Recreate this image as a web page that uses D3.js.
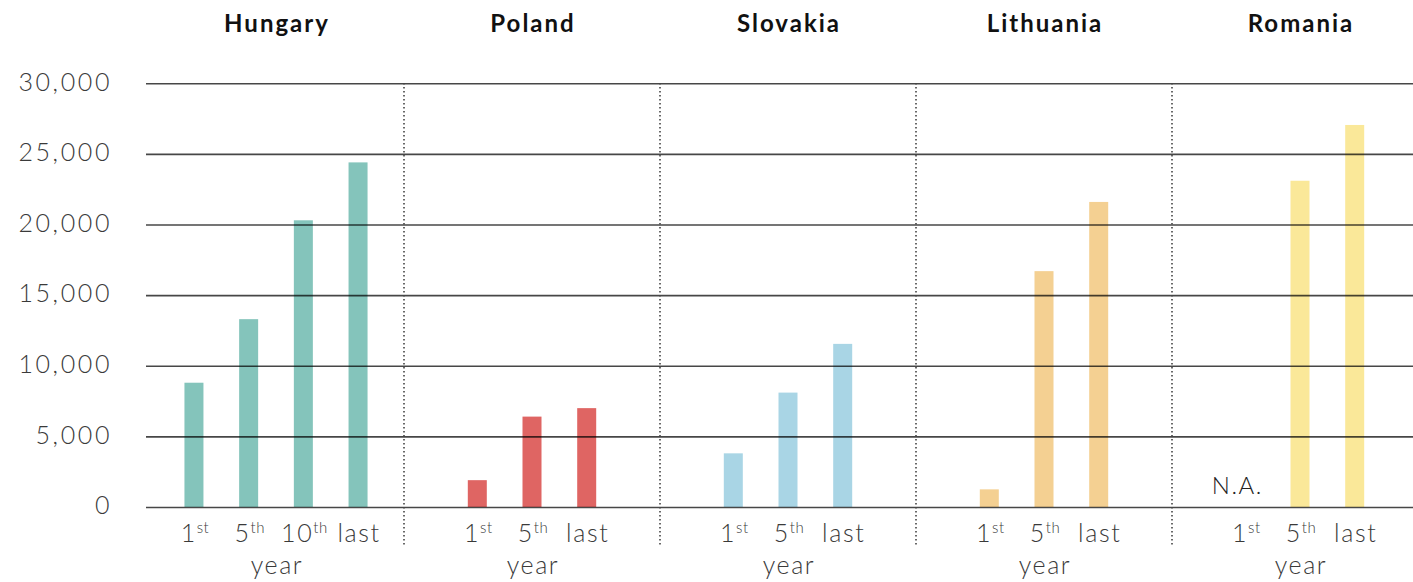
<!DOCTYPE html>
<html>
<head>
<meta charset="utf-8">
<script src="https://cdn.jsdelivr.net/npm/d3@7"></script>
<style>
  html, body { margin: 0; padding: 0; background: #fff; }
  svg { display: block; }
</style>
</head>
<body>
<svg id="chart" width="1413" height="582"></svg>
<script>
// ---- data ----
const countries = ["Hungary", "Poland", "Slovakia", "Lithuania", "Romania"];
const hungaryYears = ["1st", "5th", "10th", "last"];
const hungaryValues = [8800, 13300, 20300, 24400];
const polandYears = ["1st", "5th", "last"];
const polandValues = [1900, 6400, 7000];
const slovakiaYears = ["1st", "5th", "last"];
const slovakiaValues = [3800, 8100, 11550];
const lithuaniaYears = ["1st", "5th", "last"];
const lithuaniaValues = [1250, 16700, 21600];
const romaniaYears = ["1st", "5th", "last"];
const romaniaValues = [null, 23100, 27050];   // 1st year not available
const countryColors = ["#84c4bb", "#df6563", "#a9d5e5", "#f4d092", "#fae899"];
const yTicks = [0, 5000, 10000, 15000, 20000, 25000, 30000];
const naLabel = "N.A.";
const xTitle = "year";

const series = [
  { country: countries[0], years: hungaryYears, values: hungaryValues, color: countryColors[0] },
  { country: countries[1], years: polandYears, values: polandValues, color: countryColors[1] },
  { country: countries[2], years: slovakiaYears, values: slovakiaValues, color: countryColors[2] },
  { country: countries[3], years: lithuaniaYears, values: lithuaniaValues, color: countryColors[3] },
  { country: countries[4], years: romaniaYears, values: romaniaValues, color: countryColors[4] }
];

// ---- layout ----
const svg = d3.select("#chart");
const W = 1413;
const panelW = 256, panelX0 = 148;
const gridX0 = 146;
const y = d3.scaleLinear().domain([0, 30000]).range([507, 83.3]);
const xPanel = d3.scaleBand().domain(countries).range([panelX0, panelX0 + panelW * countries.length]).padding(0);
const step = 54.7, barW = 19;
const font = "Lato, 'Noto Sans', sans-serif";
const textCol = "#3a3a3a";

function inner(s) {
  const c = xPanel(s.country) + xPanel.bandwidth() / 2;
  const half = (s.years.length - 1) * step / 2;
  return d3.scalePoint().domain(s.years).range([c - half, c + half]);
}

// bars
series.forEach(s => {
  const xs = inner(s);
  svg.append("g").selectAll("rect")
    .data(s.years.map((yr, i) => ({ yr, v: s.values[i] })).filter(d => d.v != null))
    .join("rect")
    .attr("x", d => xs(d.yr) - barW / 2)
    .attr("width", barW)
    .attr("y", d => y(d.v))
    .attr("height", d => y(0) - y(d.v))
    .attr("fill", s.color);
});

// gridlines + y axis labels
const yAxis = d3.axisLeft(y).tickValues(yTicks).tickFormat(d3.format(",")).tickSize(-(W - gridX0)).tickPadding(34);
const ga = svg.append("g").attr("transform", `translate(${gridX0},0)`).call(yAxis);
ga.select(".domain").remove();
ga.selectAll(".tick line").attr("stroke", "#000").attr("stroke-opacity", 0.72).attr("stroke-width", 1.6);
ga.selectAll(".tick text")
  .attr("font-family", font).attr("font-weight", 300).attr("font-size", 25)
  .attr("letter-spacing", 2.6)
  .attr("fill", textCol).attr("dy", "0.27em");

// dotted dividers
svg.append("g").selectAll("line")
  .data(countries.slice(1))
  .join("line")
  .attr("x1", d => xPanel(d)).attr("x2", d => xPanel(d))
  .attr("y1", 83).attr("y2", 545)
  .attr("stroke", "#444").attr("stroke-width", 1.6)
  .attr("stroke-dasharray", "1.6,2.4");

// titles
svg.append("g").selectAll("text")
  .data(countries)
  .join("text")
  .attr("x", d => xPanel(d) + xPanel.bandwidth() / 2 + 1)
  .attr("y", 32)
  .attr("text-anchor", "middle")
  .attr("font-family", font).attr("font-weight", 700).attr("font-size", 24)
  .attr("letter-spacing", 2)
  .attr("fill", "#111")
  .text(d => d);

// x labels
series.forEach(s => {
  const xs = inner(s);
  const g = svg.append("g");
  s.years.forEach(yr => {
    const m = yr.match(/^(\d+)(st|nd|rd|th)$/);
    const t = g.append("text")
      .attr("x", xs(yr) + 1).attr("y", 542)
      .attr("text-anchor", "middle")
      .attr("font-family", font).attr("font-weight", 300).attr("font-size", 25)
      .attr("letter-spacing", 1.6)
      .attr("fill", textCol);
    if (m) {
      t.append("tspan").text(m[1]);
      t.append("tspan").attr("font-size", 15).attr("dy", -9).attr("letter-spacing", 0.5).text(m[2]);
    } else {
      t.text(yr);
    }
  });
  g.append("text")
    .attr("x", xPanel(s.country) + xPanel.bandwidth() / 2 + 1).attr("y", 574)
    .attr("text-anchor", "middle")
    .attr("font-family", font).attr("font-weight", 300).attr("font-size", 25)
    .attr("letter-spacing", 1.6)
    .attr("fill", textCol)
    .text(xTitle);
  s.values.forEach((v, i) => {
    if (v == null) {
      g.append("text")
        .attr("x", xs(s.years[i]) - 8).attr("y", 494)
        .attr("text-anchor", "middle")
        .attr("font-family", font).attr("font-weight", 300).attr("font-size", 24)
        .attr("letter-spacing", 1.5)
        .attr("fill", "#222")
        .text(naLabel);
    }
  });
});
</script>
</body>
</html>
